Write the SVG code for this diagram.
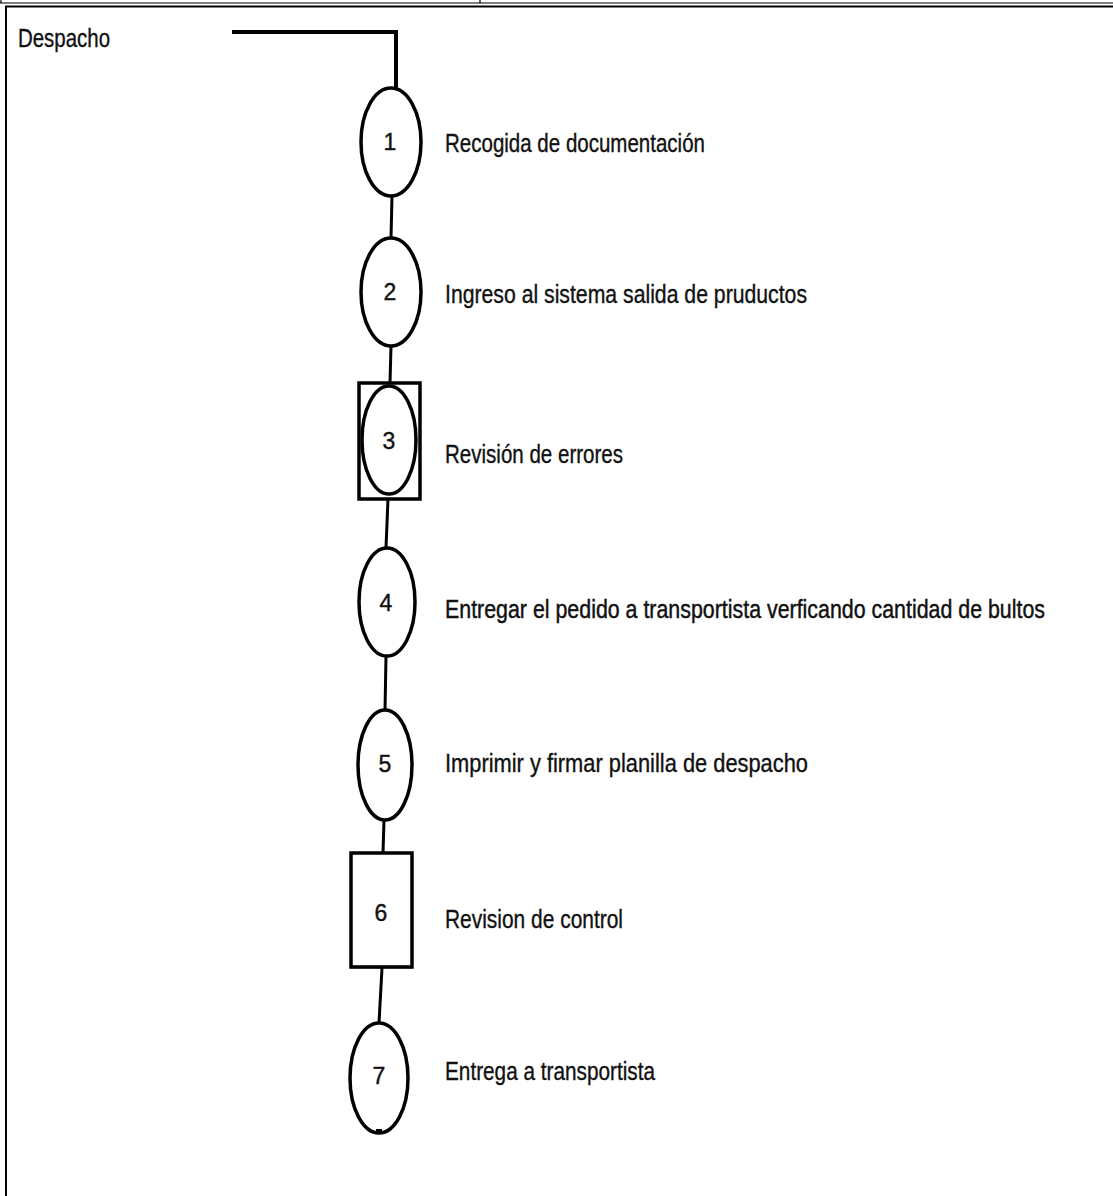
<svg xmlns="http://www.w3.org/2000/svg" width="1113" height="1196" viewBox="0 0 1113 1196">
  <style>
    .frame { stroke: #000; fill: none; }
    .shape { fill: #fff; stroke: #000; stroke-width: 3.5; }
    .link { stroke: #000; stroke-width: 3; fill: none; }
    .num { font-family: "Liberation Sans", Arial, sans-serif; font-size: 23px; fill: #111; stroke: #111; stroke-width: 0.4; text-anchor: middle; }
    .label { font-family: "Liberation Sans", Arial, sans-serif; font-size: 25px; fill: #111; stroke: #111; stroke-width: 0.35; }
  </style>
  <rect width="1113" height="1196" fill="#fff"/>

  <!-- page frame -->
  <g id="frame" class="frame">
    <line x1="0" y1="3" x2="1113" y2="3" stroke-width="1.2"/>
    <line x1="1" y1="0" x2="1" y2="3" stroke-width="1.2"/>
    <line x1="480" y1="0" x2="480" y2="3" stroke-width="1.2"/>
    <line x1="5" y1="6.5" x2="1113" y2="6.5" stroke-width="2"/>
    <line x1="6" y1="6" x2="6" y2="1196" stroke-width="2"/>
  </g>

  <!-- connectors -->
  <g id="connectors" class="link">
    <path d="M232,32 H396 V88" stroke-width="4"/>
    <line x1="392" y1="196" x2="391" y2="238"/>
    <line x1="391" y1="346" x2="390" y2="383"/>
    <line x1="388" y1="499" x2="386" y2="548"/>
    <line x1="386" y1="656" x2="385" y2="711"/>
    <line x1="384" y1="820" x2="383" y2="853"/>
    <line x1="382" y1="968" x2="379" y2="1023"/>
  </g>

  <g id="title">
    <text class="label" x="18" y="47" textLength="92" lengthAdjust="spacingAndGlyphs">Despacho</text>
  </g>

  <g id="step1">
    <ellipse class="shape" cx="391" cy="142" rx="30" ry="54"/>
    <text class="num" x="390" y="150">1</text>
    <text class="label" x="445" y="152" textLength="260" lengthAdjust="spacingAndGlyphs">Recogida de documentación</text>
  </g>

  <g id="step2">
    <ellipse class="shape" cx="391" cy="292" rx="30" ry="54"/>
    <text class="num" x="390" y="300">2</text>
    <text class="label" x="445" y="303" textLength="362" lengthAdjust="spacingAndGlyphs">Ingreso al sistema salida de pruductos</text>
  </g>

  <g id="step3">
    <rect class="shape" x="359" y="383" width="61" height="116"/>
    <ellipse class="shape" cx="389" cy="440" rx="27" ry="54"/>
    <text class="num" x="389" y="449">3</text>
    <text class="label" x="445" y="463" textLength="178" lengthAdjust="spacingAndGlyphs">Revisión de errores</text>
  </g>

  <g id="step4">
    <ellipse class="shape" cx="387" cy="602" rx="28" ry="54"/>
    <text class="num" x="386" y="611">4</text>
    <text class="label" transform="translate(445,618) scale(1,1.25)" x="0" y="0" style="font-size:20px" textLength="600" lengthAdjust="spacingAndGlyphs">Entregar el pedido a transportista verficando cantidad de bultos</text>
  </g>

  <g id="step5">
    <ellipse class="shape" cx="385" cy="765" rx="27" ry="55"/>
    <text class="num" x="385" y="772">5</text>
    <text class="label" x="445" y="772" textLength="363" lengthAdjust="spacingAndGlyphs">Imprimir y firmar planilla de despacho</text>
  </g>

  <g id="step6">
    <rect class="shape" x="351" y="853" width="61" height="114"/>
    <line x1="351" y1="967" x2="412" y2="967" stroke="#000" stroke-width="2.5"/>
    <text class="num" x="381" y="921">6</text>
    <text class="label" x="445" y="928" textLength="178" lengthAdjust="spacingAndGlyphs">Revision de control</text>
  </g>

  <g id="step7">
    <ellipse class="shape" cx="379" cy="1078" rx="29" ry="55"/>
    <rect x="376" y="1129" width="6" height="5" fill="#000"/>
    <text class="num" x="379" y="1084">7</text>
    <text class="label" x="445" y="1080" textLength="210" lengthAdjust="spacingAndGlyphs">Entrega a transportista</text>
  </g>
</svg>
